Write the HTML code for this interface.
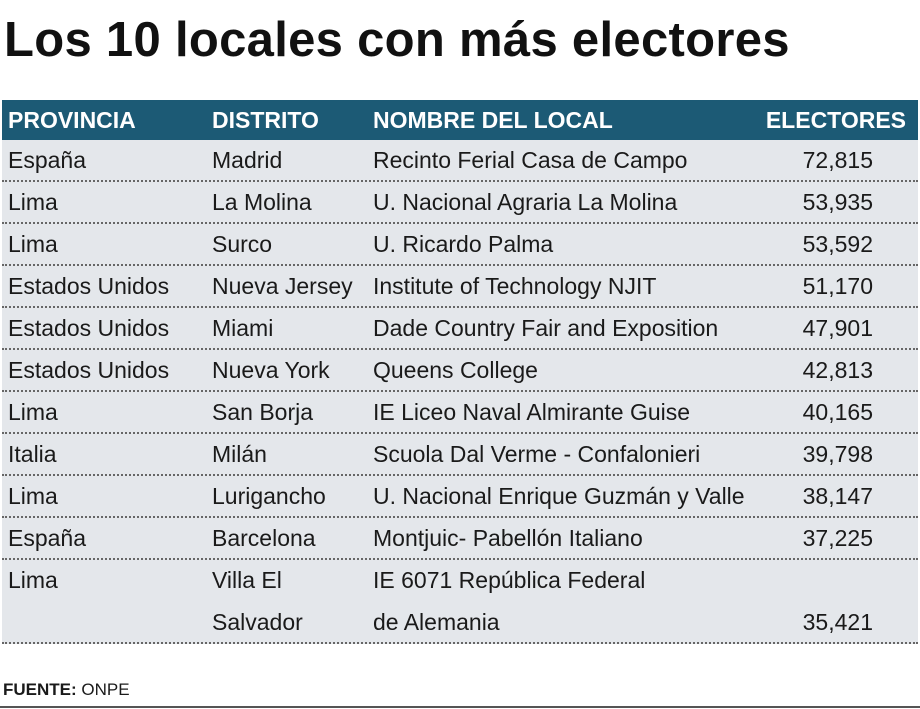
<!DOCTYPE html>
<html><head><meta charset="utf-8"><style>
body{margin:0;width:920px;height:709px;background:#fff;font-family:"Liberation Sans",sans-serif;position:relative;overflow:hidden;color:#1a1a1a}
h1{position:absolute;left:4px;top:12px;margin:0;font-size:49px;font-weight:bold;letter-spacing:0.3px;color:#111;white-space:nowrap}
.hdr{position:absolute;left:2px;top:100px;width:916px;height:40px;background:#1c5a75;color:#fff;font-weight:bold;font-size:23px}
.row{position:absolute;left:2px;width:916px;background:#e4e7eb;border-bottom:2px dotted #666;font-size:23px}
.c{position:absolute;white-space:nowrap;line-height:42px;top:-1px}
.src{position:absolute;left:3px;top:680px;font-size:17px}
.rule{position:absolute;left:0;top:706px;width:920px;height:2px;background:#555}
</style></head><body>
<h1>Los 10 locales con más electores</h1>
<div class="hdr">
<span class="c" style="left:6px">PROVINCIA</span>
<span class="c" style="left:210px">DISTRITO</span>
<span class="c" style="left:371px">NOMBRE DEL LOCAL</span>
<span class="c" style="right:12px">ELECTORES</span>
</div>
<div id="rows"></div>
<div class="src"><b>FUENTE:</b> ONPE</div>
<div class="rule"></div>
<script>
const provincias=["España","Lima","Lima","Estados Unidos","Estados Unidos","Estados Unidos","Lima","Italia","Lima","España","Lima"];
const distritos=["Madrid","La Molina","Surco","Nueva Jersey","Miami","Nueva York","San Borja","Milán","Lurigancho","Barcelona","Villa El<br>Salvador"];
const locales=["Recinto Ferial Casa de Campo","U. Nacional Agraria La Molina","U. Ricardo Palma","Institute of Technology NJIT","Dade Country Fair and Exposition","Queens College","IE Liceo Naval Almirante Guise","Scuola Dal Verme - Confalonieri","U. Nacional Enrique Guzmán y Valle","Montjuic- Pabellón Italiano","IE 6071 República Federal<br>de Alemania"];
const electores=["72,815","53,935","53,592","51,170","47,901","42,813","40,165","39,798","38,147","37,225","35,421"];
const cont=document.getElementById('rows');
let y=140;
for(let i=0;i<provincias.length;i++){
  const last=i===provincias.length-1;
  const h=last?82:40;
  const r=document.createElement('div');
  r.className='row';
  
  
  r.style.top=y+'px';r.style.height=h+'px';
  r.innerHTML=`<span class="c" style="left:6px">${provincias[i]}</span>
<span class="c" style="left:210px">${distritos[i]}</span>
<span class="c" style="left:371px">${locales[i]}</span>
<span class="c" style="right:45px;top:${last?41:-1}px">${electores[i]}</span>`;
  cont.appendChild(r);
  y+=h+2;
}
</script>
</body></html>
